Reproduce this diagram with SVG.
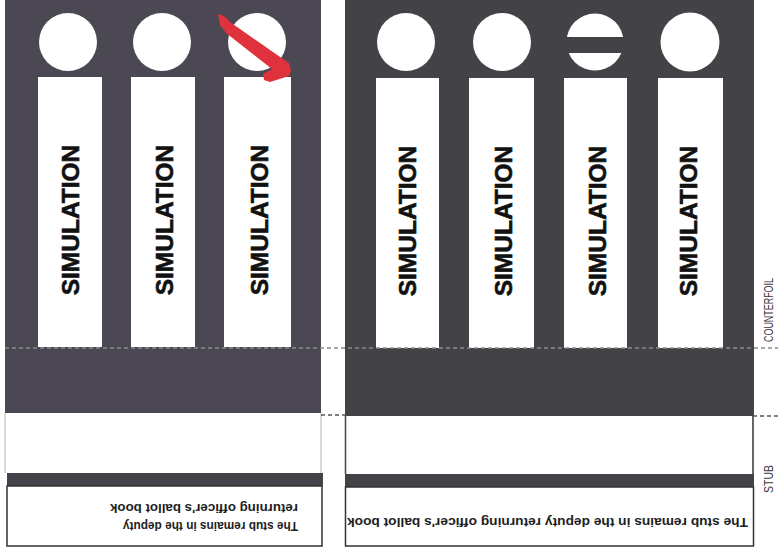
<svg xmlns="http://www.w3.org/2000/svg" width="778" height="552" viewBox="0 0 778 552">
  <style>
    .sim { font-family: "Liberation Sans", Arial, sans-serif; font-weight: bold; font-size: 24.5px; fill: #111; stroke: #111; stroke-width: 0.6; text-anchor: middle; }
    .note { font-family: "Liberation Sans", Arial, sans-serif; font-weight: bold; font-size: 12.5px; fill: #1e1e1e; }
    .side { font-family: "Liberation Sans", Arial, sans-serif; font-size: 12px; fill: #3a3a3a; text-anchor: middle; }
    .slot { fill: #ffffff; }
    .box { fill: #ffffff; stroke: #333; stroke-width: 1.5; }
    .dash { stroke: #8a8a8a; stroke-width: 1.5; stroke-dasharray: 4 3; fill: none; }
    .dashd { stroke: #555; stroke-width: 1.5; stroke-dasharray: 4 3; fill: none; }
  </style>
  <rect x="0" y="0" width="778" height="552" fill="#ffffff"/>

  <g id="left-ballot">
    <rect x="5" y="0" width="316" height="413" fill="#4b4853"/>
    <circle cx="68" cy="42" r="29" class="slot"/>
    <circle cx="162" cy="42" r="29" class="slot"/>
    <circle cx="257" cy="42" r="29" class="slot"/>
    <rect x="38" y="77" width="64" height="270" class="slot"/>
    <rect x="131" y="77" width="64" height="270" class="slot"/>
    <rect x="224" y="77" width="67" height="270" class="slot"/>
    <text class="sim" transform="translate(70,220) rotate(-90)" dy="0.36em">SIMULATION</text>
    <text class="sim" transform="translate(164,220) rotate(-90)" dy="0.36em">SIMULATION</text>
    <text class="sim" transform="translate(259,220) rotate(-90)" dy="0.36em">SIMULATION</text>
    <path d="M218,14 L224,16 L230,22 L283,59 L289,63 L291,70 L289,76 L270,82 L264,80 L263,74 L272,69 L226,33 L220,25 Z" fill="#e0323c"/>
    <line x1="5" y1="413" x2="5" y2="473" stroke="#cccccc" stroke-width="1.5"/>
    <line x1="321" y1="413" x2="321" y2="473" stroke="#cccccc" stroke-width="1.5"/>
    <rect x="7" y="473" width="316" height="13" fill="#454349"/>
    <rect x="7" y="486" width="315" height="60" class="box"/>
    <text class="note" transform="translate(298,522) rotate(180)" textLength="175" lengthAdjust="spacingAndGlyphs">The stub remains in the deputy</text>
    <text class="note" transform="translate(298,504) rotate(180)" textLength="188" lengthAdjust="spacingAndGlyphs">returning officer's ballot book</text>
  </g>

  <g id="right-ballot">
    <rect x="345" y="0" width="409" height="416" fill="#434247"/>
    <circle cx="406" cy="42" r="29" class="slot"/>
    <circle cx="502" cy="42" r="29" class="slot"/>
    <circle cx="595" cy="42" r="28.5" class="slot"/>
    <rect x="560" y="37" width="72" height="16" fill="#434247"/>
    <circle cx="690" cy="42" r="29.5" class="slot"/>
    <rect x="376" y="78" width="63" height="270" class="slot"/>
    <rect x="469" y="78" width="65" height="270" class="slot"/>
    <rect x="564" y="78" width="63" height="270" class="slot"/>
    <rect x="658" y="78" width="65" height="270" class="slot"/>
    <text class="sim" transform="translate(407,221) rotate(-90)" dy="0.36em">SIMULATION</text>
    <text class="sim" transform="translate(503,221) rotate(-90)" dy="0.36em">SIMULATION</text>
    <text class="sim" transform="translate(597,221) rotate(-90)" dy="0.36em">SIMULATION</text>
    <text class="sim" transform="translate(688,221) rotate(-90)" dy="0.36em">SIMULATION</text>
    <line x1="345.5" y1="416" x2="345.5" y2="474" stroke="#444" stroke-width="1.5"/>
    <line x1="753" y1="416" x2="753" y2="474" stroke="#333" stroke-width="1.5"/>
    <rect x="345" y="474" width="409" height="13" fill="#434247"/>
    <rect x="345.5" y="487" width="408" height="59" class="box"/>
    <text class="note" transform="translate(748,518) rotate(180)" textLength="401" lengthAdjust="spacingAndGlyphs">The stub remains in the deputy returning officer's ballot book</text>
  </g>

  <g id="connectors">
    <line x1="5" y1="348" x2="778" y2="348" class="dash"/>
    <line x1="321" y1="415" x2="345" y2="415" class="dashd"/>
    <line x1="753" y1="416" x2="778" y2="416" class="dashd"/>
  </g>

  <g id="labels">
    <text class="side" transform="translate(769,310) rotate(-90)" dy="0.36em" textLength="64" lengthAdjust="spacingAndGlyphs">COUNTERFOIL</text>
    <text class="side" transform="translate(769,479) rotate(-90)" dy="0.36em" textLength="28" lengthAdjust="spacingAndGlyphs">STUB</text>
  </g>
</svg>
